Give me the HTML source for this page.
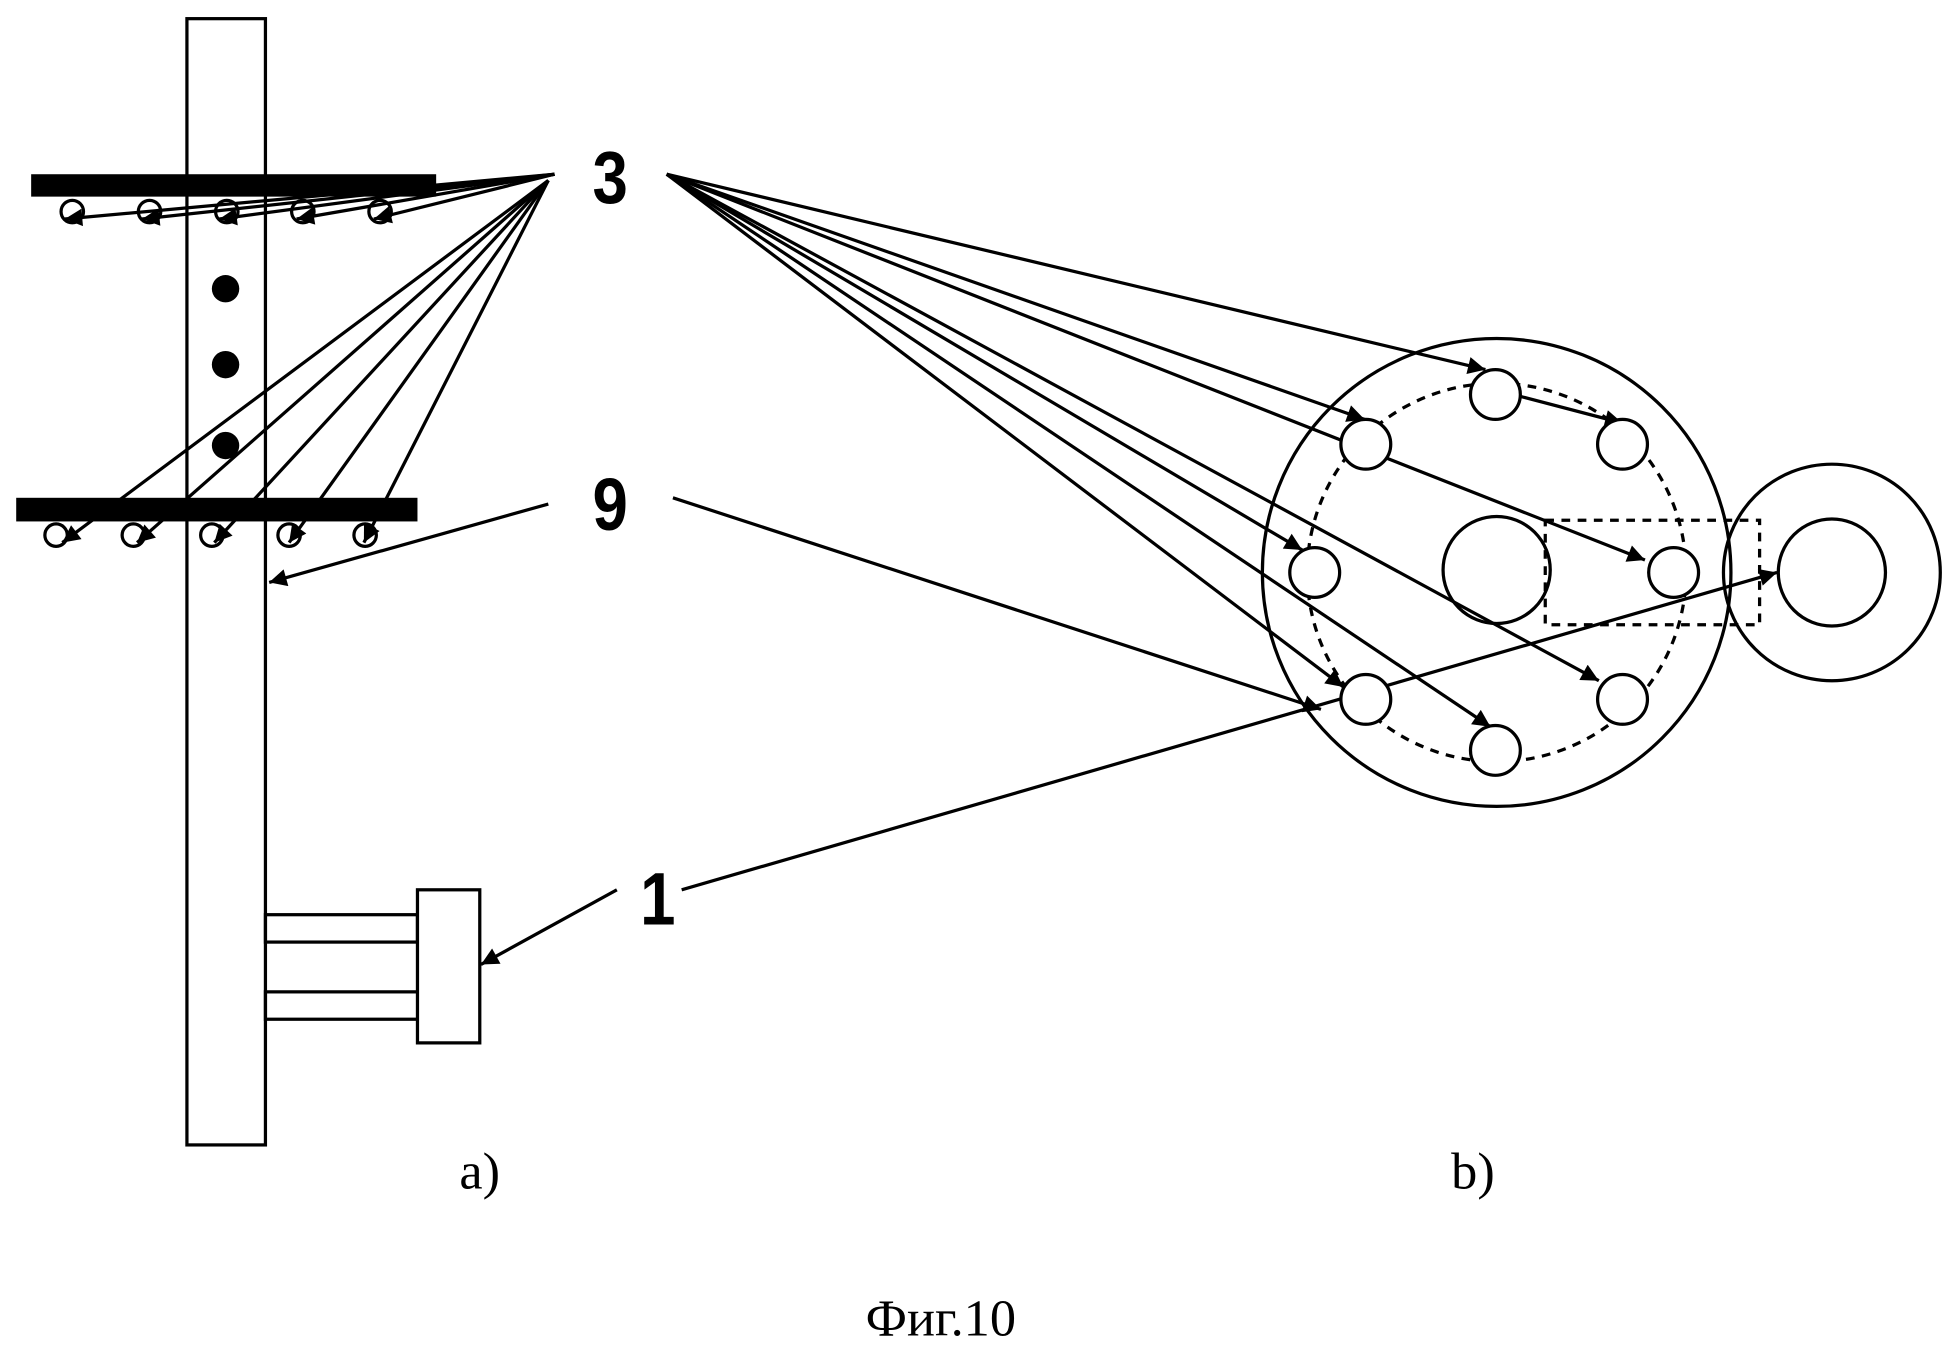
<!DOCTYPE html>
<html><head><meta charset="utf-8"><style>html,body{margin:0;padding:0;background:#fff}svg{display:block}</style></head>
<body>
<svg width="1954" height="1354" viewBox="0 0 1568 1088" preserveAspectRatio="none" xmlns="http://www.w3.org/2000/svg">
<defs>
<marker id="b" viewBox="0 0 10 10" refX="10" refY="5" markerWidth="16" markerHeight="14" markerUnits="userSpaceOnUse" orient="auto"><path d="M0,0L10,5L0,10z" fill="#000"/></marker></defs>
<g fill="none" stroke="#000" stroke-width="2.6">
<rect x="150" y="15" width="63" height="905"/>
<line x1="445" y1="140" x2="52" y2="176" marker-end="url(#b)"/>
<line x1="445" y1="140" x2="114" y2="176" marker-end="url(#b)"/>
<line x1="445" y1="140" x2="176" y2="176" marker-end="url(#b)"/>
<line x1="445" y1="140" x2="238" y2="176" marker-end="url(#b)"/>
<line x1="445" y1="140" x2="300" y2="176" marker-end="url(#b)"/>
<line x1="440" y1="145" x2="50" y2="436" marker-end="url(#b)"/>
<line x1="440" y1="145" x2="110" y2="436" marker-end="url(#b)"/>
<line x1="440" y1="145" x2="172" y2="436" marker-end="url(#b)"/>
<line x1="440" y1="145" x2="232" y2="436" marker-end="url(#b)"/>
<line x1="440" y1="145" x2="292" y2="436" marker-end="url(#b)"/>
<circle cx="58" cy="170" r="9"/><circle cx="120" cy="170" r="9"/><circle cx="182" cy="170" r="9"/><circle cx="243" cy="170" r="9"/><circle cx="305" cy="170" r="9"/>
<circle cx="45" cy="430" r="9"/><circle cx="107" cy="430" r="9"/><circle cx="170" cy="430" r="9"/><circle cx="232" cy="430" r="9"/><circle cx="293" cy="430" r="9"/>
<line x1="440" y1="405" x2="216" y2="468" marker-end="url(#b)"/>
<line x1="495" y1="715" x2="386" y2="775" marker-end="url(#b)"/>
<line x1="547" y1="715" x2="1426" y2="460" marker-end="url(#b)"/>
<line x1="540" y1="400" x2="1060" y2="570" marker-end="url(#b)"/>
<rect x="213" y="735" width="122" height="22"/><rect x="213" y="797" width="127" height="22"/>
<rect x="335" y="715" width="50" height="123" fill="#fff"/>
<circle cx="1201" cy="460" r="188"/>
<circle cx="1201" cy="460" r="152" stroke-dasharray="7,6"/>
<circle cx="1201" cy="458" r="43"/>
<rect x="1240" y="418" width="172" height="84" stroke-dasharray="7,6"/>
<circle cx="1470" cy="460" r="87"/><circle cx="1470" cy="460" r="43"/>
<g marker-end="url(#b)">
<line x1="535" y1="140" x2="1192" y2="297"/>
<line x1="535" y1="140" x2="1095" y2="337"/>
<line x1="535" y1="140" x2="1320" y2="450"/>
<line x1="535" y1="140" x2="1045" y2="442"/>
<line x1="535" y1="140" x2="1283" y2="547"/>
<line x1="535" y1="140" x2="1078" y2="552"/>
<line x1="535" y1="140" x2="1196" y2="584"/>
<line x1="1218" y1="318" x2="1302" y2="340"/>
</g>
<circle cx="1200" cy="317" r="20" fill="#fff"/><circle cx="1302" cy="357" r="20" fill="#fff"/><circle cx="1096" cy="357" r="20" fill="#fff"/><circle cx="1055" cy="460" r="20" fill="#fff"/><circle cx="1343" cy="460" r="20" fill="#fff"/><circle cx="1096" cy="562" r="20" fill="#fff"/><circle cx="1302" cy="562" r="20" fill="#fff"/><circle cx="1200" cy="603" r="20" fill="#fff"/>
</g>
<rect x="25" y="140" width="325" height="18" fill="#000"/>
<rect x="13" y="400" width="322" height="19" fill="#000"/>
<circle cx="181" cy="232" r="11"/><circle cx="181" cy="293" r="11"/><circle cx="181" cy="358" r="11"/>
<g font-family="Liberation Sans, sans-serif" font-size="60" font-weight="bold" text-anchor="middle">
<text x="490" y="163" transform="scale(0.85,1) translate(86,0)">3</text>
<text x="490" y="426" transform="scale(0.85,1) translate(86,0)">9</text>
<text x="528" y="743" transform="scale(0.85,1) translate(93,0)">1</text>
</g>
<g font-family="Liberation Serif, serif" font-size="42" text-anchor="middle">
<text x="385" y="955">a)</text><text x="1182" y="955">b)</text><text x="755" y="1073">Фиг.10</text>
</g>
</svg>
</body></html>
